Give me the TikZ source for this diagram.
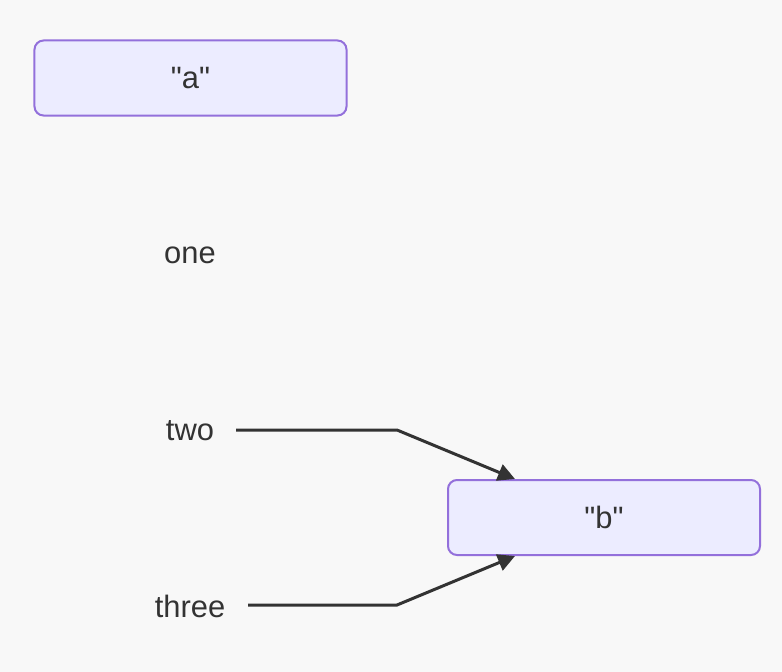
\documentclass[tikz,border=0pt]{standalone}
\usepackage{fontspec}
\setmainfont{Liberation Sans}[Ligatures=TeXOff]
\usetikzlibrary{arrows.meta}
\definecolor{bgc}{HTML}{F8F8F8}
\definecolor{boxfill}{HTML}{ECECFF}
\definecolor{boxline}{HTML}{9370DB}
\definecolor{ink}{HTML}{333333}
\begin{document}
\begin{tikzpicture}[x=1bp,y=-1bp,
  every node/.style={font=\fontsize{31}{36}\selectfont, text=ink},
  box/.style={draw=boxline, fill=boxfill, line width=2bp, rounded corners=9bp,
    minimum width=312bp, minimum height=75bp, inner sep=0pt},
  lbl/.style={inner sep=0pt},
  edge/.style={draw=ink, line width=3bp, -{Triangle[length=17bp,width=17bp]}}]
  \fill[bgc] (0,0) rectangle (782,672);
  \useasboundingbox (0,0) rectangle (782,672);
  \node[box] (a) at (190.5,78) {"a"};
  \node[box] (b) at (604,517.5) {"b"};
  \node[lbl] (one) at (190,255) {one};
  \node[lbl] (two) at (190,431) {two};
  \node[lbl] (three) at (190,606) {three};
  \coordinate (k2) at (397,430);
  \coordinate (k3) at (397,605);
  \coordinate (s2) at (236,430);
  \coordinate (s3) at (248,605);
  \draw[edge] (s2) -- (k2) -- (b.north west -| 515,0);
  \draw[edge] (s3) -- (k3) -- (b.south west -| 515,0);
\end{tikzpicture}
\end{document}
